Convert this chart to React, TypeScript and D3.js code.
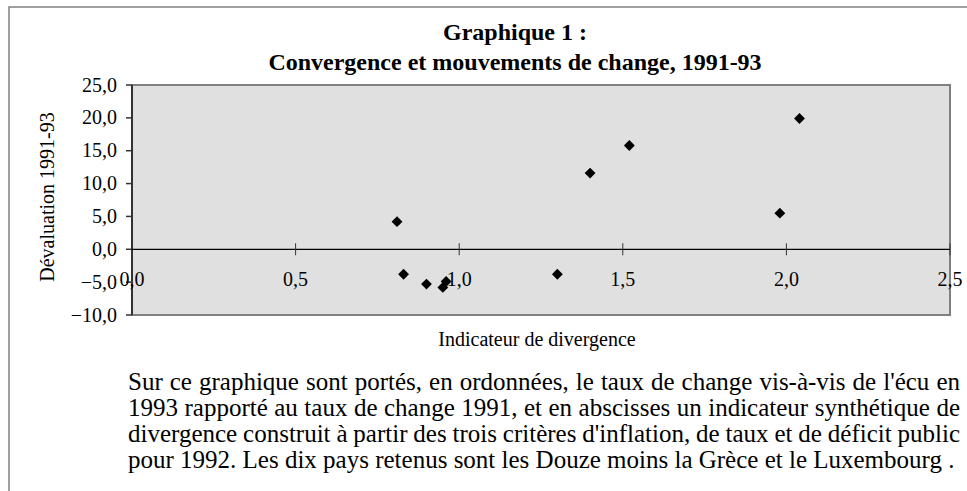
import React, { useRef, useEffect } from "react";
import * as d3 from "d3";

// Indicateur de divergence (x) vs dévaluation 1991-93 (y), dix pays
const divergence = [0.81, 0.83, 0.9, 0.95, 0.96, 1.3, 1.4, 1.52, 1.98, 2.04];
const devaluation = [4.2, -3.8, -5.3, -5.8, -4.9, -3.8, 11.6, 15.8, 5.5, 19.9];

const xTicks = [0, 0.5, 1.0, 1.5, 2.0, 2.5];
const yTicks = [-10, -5, 0, 5, 10, 15, 20, 25];

const titleLines = ["Graphique 1 :", "Convergence et mouvements de change, 1991-93"];
const xLabel = "Indicateur de divergence";
const yLabel = "Dévaluation 1991-93";

const noteLines = [
  "Sur ce graphique sont portés, en ordonnées, le taux de change vis-à-vis de l'écu en",
  "1993 rapporté au taux de change 1991, et en abscisses un indicateur synthétique de",
  "divergence construit à partir des trois critères d'inflation, de taux et de déficit public",
  "pour 1992. Les dix pays retenus sont les Douze moins la Grèce et le Luxembourg .",
];

const W = 967;
const H = 491;
const FONT = "'Liberation Serif', 'Times New Roman', serif";

const fmt = (v: number) => d3.format(".1f")(v).replace(".", ",");

const App = () => {
  const svgRef = useRef<SVGSVGElement>(null);

  useEffect(() => {
    document.body.style.margin = "0";
    const svg = d3.select(svgRef.current);
    svg.selectAll("*").remove();

    const left = 132, right = 950, top = 85, bottom = 315;

    const x = d3.scaleLinear().domain([0, 2.5]).range([left, right]);
    const y = d3.scaleLinear().domain([-10, 25]).range([bottom, top]);

    // outer frame
    svg.append("path")
      .attr("d", `M9,${H} L9,7 L${W},7`)
      .attr("fill", "none")
      .attr("stroke", "#808080")
      .attr("stroke-width", 1.5);

    // title
    svg.append("g")
      .selectAll("text")
      .data(titleLines)
      .enter()
      .append("text")
      .attr("x", 515)
      .attr("y", (d, i) => 40 + i * 30)
      .attr("text-anchor", "middle")
      .attr("font-family", FONT)
      .attr("font-weight", "bold")
      .attr("font-size", 24)
      .text(d => d);

    // plot area
    svg.append("rect")
      .attr("x", left)
      .attr("y", top)
      .attr("width", right - left)
      .attr("height", bottom - top)
      .attr("fill", "#e0e0e0")
      .attr("stroke", "#808080")
      .attr("stroke-width", 2);

    // y axis
    const yAxis = svg.append("g").attr("transform", `translate(${left},0)`);
    yAxis.append("line")
      .attr("x1", 0).attr("x2", 0)
      .attr("y1", top).attr("y2", bottom)
      .attr("stroke", "#333")
      .attr("stroke-width", 2);
    yAxis.selectAll("line.tick")
      .data(yTicks)
      .enter()
      .append("line")
      .attr("class", "tick")
      .attr("x1", -6).attr("x2", 0)
      .attr("y1", d => y(d)).attr("y2", d => y(d))
      .attr("stroke", "#333")
      .attr("stroke-width", 1.5);
    yAxis.selectAll("text")
      .data(yTicks)
      .enter()
      .append("text")
      .attr("x", -15)
      .attr("y", d => y(d))
      .attr("dy", "0.33em")
      .attr("text-anchor", "end")
      .attr("font-family", FONT)
      .attr("font-size", 20)
      .text(d => fmt(d));

    // x axis on zero line
    const xAxis = svg.append("g").attr("transform", `translate(0,${y(0)})`);
    xAxis.append("line")
      .attr("x1", left).attr("x2", right)
      .attr("stroke", "#000")
      .attr("stroke-width", 1.2);
    xAxis.selectAll("line.tick")
      .data(xTicks.slice(1))
      .enter()
      .append("line")
      .attr("class", "tick")
      .attr("x1", d => x(d)).attr("x2", d => x(d))
      .attr("y1", -6).attr("y2", 6)
      .attr("stroke", "#333")
      .attr("stroke-width", 1);
    xAxis.selectAll("text")
      .data(xTicks)
      .enter()
      .append("text")
      .attr("x", d => x(d))
      .attr("y", 37)
      .attr("text-anchor", "middle")
      .attr("font-family", FONT)
      .attr("font-size", 20)
      .text(d => fmt(d));

    // points
    const diamond = d3.symbol().type(d3.symbolDiamond2).size(75);
    svg.append("g")
      .selectAll("path")
      .data(divergence.map((d, i) => [d, devaluation[i]]))
      .enter()
      .append("path")
      .attr("d", diamond)
      .attr("transform", d => `translate(${x(d[0])},${y(d[1])})`)
      .attr("fill", "#000");

    // axis labels
    svg.append("text")
      .attr("x", 537)
      .attr("y", 346)
      .attr("text-anchor", "middle")
      .attr("font-family", FONT)
      .attr("font-size", 20)
      .text(xLabel);

    svg.append("text")
      .attr("transform", `translate(54,197) rotate(-90)`)
      .attr("text-anchor", "middle")
      .attr("font-family", FONT)
      .attr("font-size", 20)
      .text(yLabel);

    // justified note
    const noteLeft = 128, noteRight = 960;
    const lines = svg.append("g")
      .selectAll("text")
      .data(noteLines)
      .enter()
      .append("text")
      .attr("x", noteLeft)
      .attr("y", (d, i) => 390 + i * 26)
      .attr("font-family", FONT)
      .attr("font-size", 25)
      .text(d => d);
    lines.each(function (d, i) {
      if (i === noteLines.length - 1) return;
      const el = this as SVGTextElement;
      const natural = el.getComputedTextLength();
      const spaces = (d.match(/ /g) || []).length;
      if (spaces > 0) {
        d3.select(el).attr("word-spacing", (noteRight - noteLeft - natural) / spaces);
      }
    });
  }, []);

  return (
    <div>
      <svg ref={svgRef} width={W} height={H} style={{ display: "block", background: "#fff" }}></svg>
    </div>
  );
};

export default App;
